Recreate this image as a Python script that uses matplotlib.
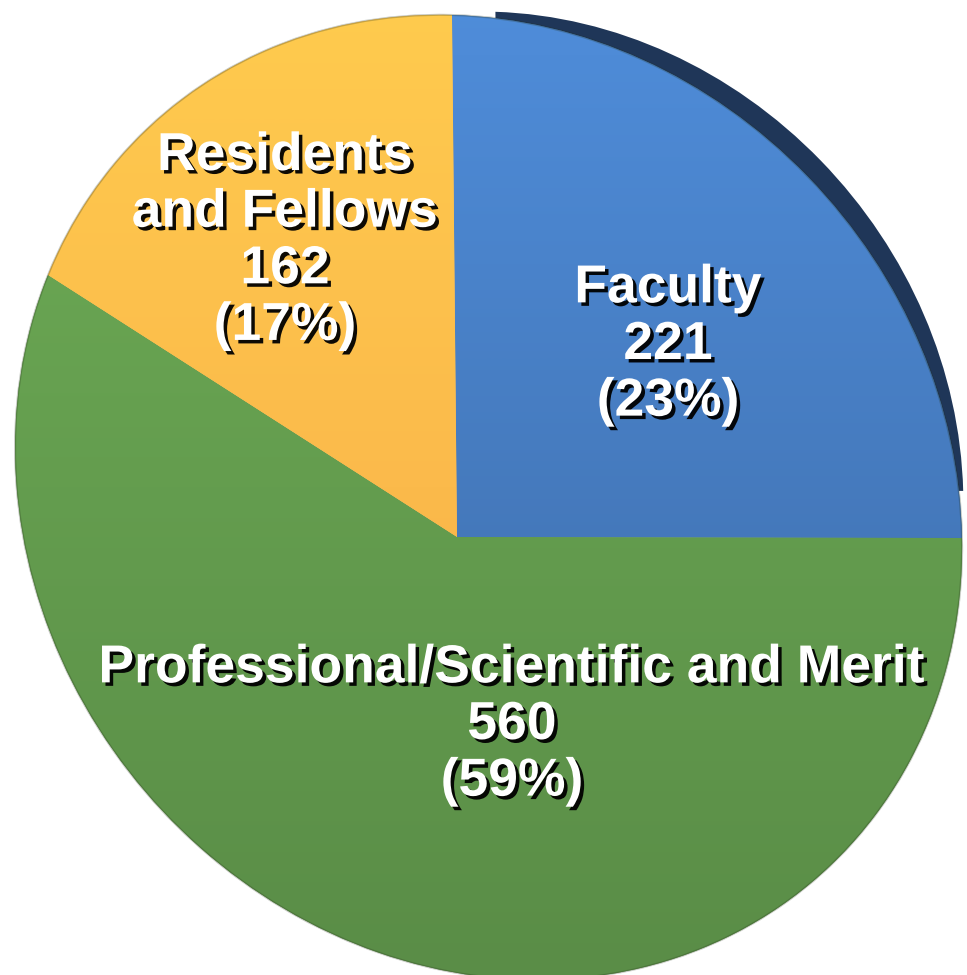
import numpy as np
import matplotlib
matplotlib.use("Agg")
import matplotlib.pyplot as plt
import matplotlib.transforms as mtransforms
import matplotlib.patheffects as pe
from matplotlib.colors import LinearSegmentedColormap

# headcount by group
groups = ["Faculty", "Professional/Scientific and Merit", "Residents\nand Fellows"]
counts = [221, 560, 162]
top_colors = ["#4F8DDA", "#6EAD56", "#FFCB4E"]
bottom_colors = ["#3C68A2", "#5A8D47", "#F7A948"]
side_color = "#1F3658"


class Perspective(mtransforms.Transform):
    # projective map used to tilt the flat pie
    input_dims = 2
    output_dims = 2

    def __init__(self, H):
        super().__init__()
        self.H = H

    def transform_non_affine(self, xy):
        xy = np.asarray(xy, dtype=float)
        h = np.column_stack([xy, np.ones(len(xy))]) @ self.H.T
        return h[:, :2] / h[:, 2:3]


def homography(src, dst):
    A = []
    for (x, y), (u, v) in zip(src, dst):
        A.append([x, y, 1, 0, 0, 0, -u * x, -u * y, -u])
        A.append([0, 0, 0, x, y, 1, -v * x, -v * y, -v])
    _, _, vt = np.linalg.svd(np.array(A))
    return vt[-1].reshape(3, 3)


fracs = np.array(counts) / sum(counts)
edges = 90 - 360 * np.concatenate([[0], np.cumsum(fracs)[:-1]])
src = [(0, 0)] + [(np.cos(np.radians(a)), np.sin(np.radians(a))) for a in edges]
# where the centre and the three slice borders land on the canvas (pixels)
dst = [(457, 537), (452, 15), (962, 538), (48, 275)]
tilt = Perspective(homography(src, dst))

fig = plt.figure(figsize=(9.67, 9.75), dpi=100)
ax = fig.add_axes([0, 0, 1, 1])

wedges, _ = ax.pie(counts, startangle=90, counterclock=False, radius=1,
                   wedgeprops=dict(linewidth=0), frame=True)

# dark side of the raised faculty slice
side, _ = ax.pie([counts[0], sum(counts) - counts[0]], startangle=90,
                 counterclock=False, colors=[side_color, "none"], radius=0.923,
                 wedgeprops=dict(linewidth=0), frame=True)
for w in side:
    w.set_transform(tilt + mtransforms.Affine2D().translate(43, -47) + ax.transData)
    w.set_zorder(0.5)
side[1].set_visible(False)

grad = np.linspace(0, 1, 256).reshape(-1, 1)
for w, c0, c1 in zip(wedges, top_colors, bottom_colors):
    w.set_transform(tilt + ax.transData)
    w.set_facecolor(c1)
    w.set_zorder(1)
    cmap = LinearSegmentedColormap.from_list("g", [c0, c1])
    im = ax.imshow(grad, cmap=cmap, extent=(0, 967, 975, 0), aspect="auto",
                   origin="upper", zorder=1.5, interpolation="bilinear")
    im.set_clip_path(w)

# soft rim around the whole pie
rim, _ = ax.pie([1], radius=1, colors=["none"], frame=True,
                wedgeprops=dict(linewidth=1.5, edgecolor=(0.15, 0.2, 0.1, 0.25)))
rim[0].set_transform(tilt + ax.transData)
rim[0].set_zorder(2)

ax.set_xlim(0, 967)
ax.set_ylim(975, 0)
ax.axis("off")

shadow = [pe.withSimplePatchShadow(offset=(2.5, -2.5), shadow_rgbFace="black", alpha=0.95)]
label_pos = [(668, 345), (512, 725), (285, 241)]
for name, n, f, (x, y) in zip(groups, counts, fracs, label_pos):
    ax.text(x, y, f"{name}\n{n}\n({f * 100:.0f}%)", ha="center", va="center",
            color="white", fontsize=38.5, fontweight="bold",
            family="Liberation Sans", linespacing=1.17,
            path_effects=shadow, zorder=5)

fig.savefig("out.png", dpi=100)
